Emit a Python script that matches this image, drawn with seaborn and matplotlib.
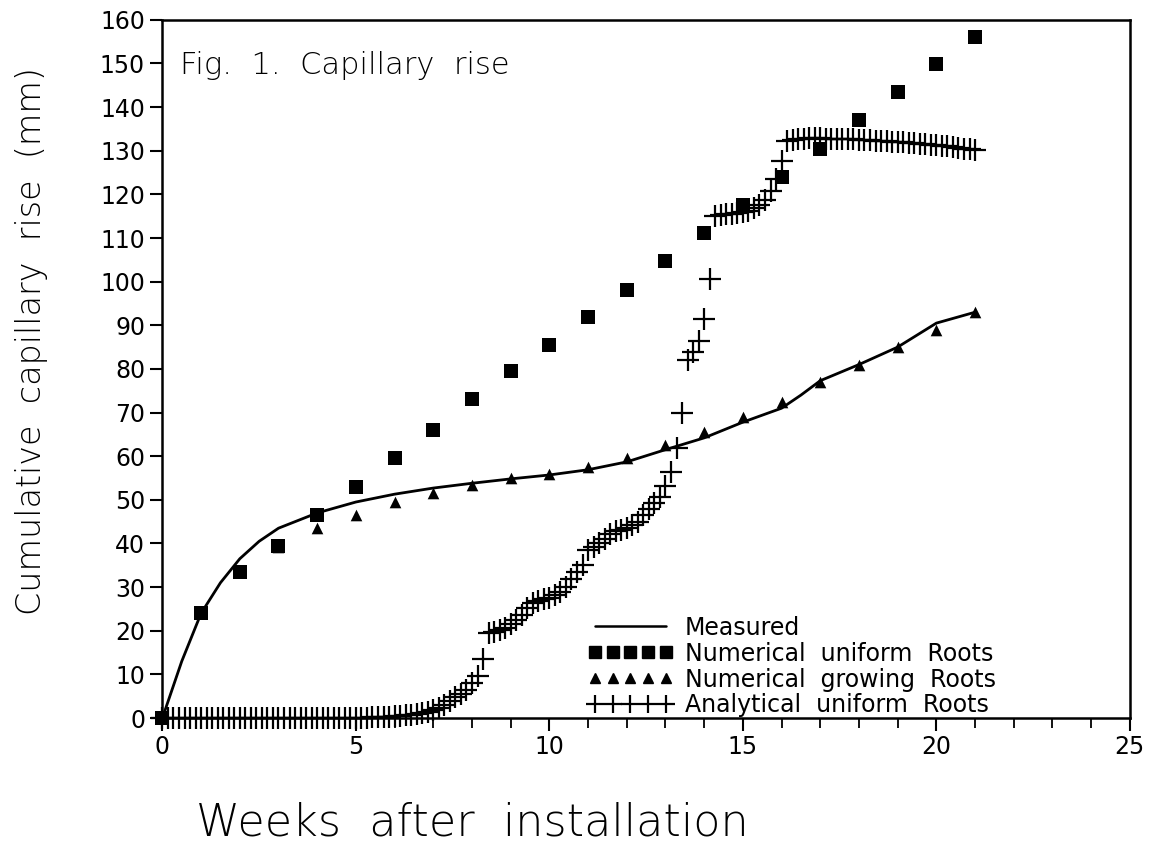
import numpy as np
import pandas as pd
import matplotlib
matplotlib.use("Agg")
import matplotlib.pyplot as plt
from matplotlib.ticker import MultipleLocator
from matplotlib.lines import Line2D
import seaborn as sns

sns.set_theme(style="ticks")
plt.rcParams['font.family'] = ['DejaVu Sans']
plt.rcParams['text.color'] = 'black'
plt.rcParams['axes.labelcolor'] = 'black'
plt.rcParams['xtick.color'] = 'black'
plt.rcParams['ytick.color'] = 'black'

# Measured (solid line)
measured_weeks = [0, 0.5, 1, 1.5, 2, 2.5, 3, 4, 5, 6, 7, 8, 9, 10, 11, 12, 13, 14, 15, 16, 16.5, 17, 18, 19, 20, 21]
measured_mm = [0, 13, 24, 31, 36.5, 40.5, 43.5, 47, 49.5, 51.3, 52.7, 53.8, 54.8, 55.7, 56.9, 58.7, 61.5, 64.2, 67.8, 71, 74, 77.3, 81, 85, 90.5, 93]

# Numerical uniform roots (squares), weekly
num_weeks = list(range(0, 22))
num_uniform = [0, 24, 33.5, 39.5, 46.5, 53, 59.5, 66, 73, 79.5, 85.5, 92, 98.2, 104.7, 111.2, 117.6, 124.1, 130.5, 137, 143.5, 149.8, 156]

# Numerical growing roots (triangles), weekly
num_growing = [0, 24, 33.5, 39.2, 43.5, 46.5, 49.5, 51.5, 53.5, 55, 56, 57.5, 59.5, 62.5, 65.5, 69, 72.5, 77, 81, 85, 89, 93]

# Analytical uniform roots (plusses), daily values
ana_days = list(range(0, 148))
ana_mm = (
    [0] * 36
    + [0.1, 0.1, 0.2, 0.2, 0.3, 0.3, 0.4, 0.5, 0.6]
    + [0.7, 0.9, 1.1, 1.4, 1.8, 2.3, 3.0, 3.8, 4.8, 5.6]
    + [6.5, 8, 9.7, 13.6, 19.4, 19.8, 20.2, 20.7, 21.5, 22.4,
       23.6, 25.2, 26.3, 26.8, 27.2, 27.6, 28.1, 28.8, 30, 31.9,
       33.5, 35, 38.6, 39.3, 40.1, 41, 42.2, 42.8, 43.2, 43.6,
       44.2, 45, 46.5, 47.8, 49.2, 50.6, 53.2, 56.4, 61.8, 70,
       82, 83.8, 86.3, 91.4, 100.5, 115, 115.2, 115.4, 115.6, 115.8,
       116, 116.3, 116.8, 117.6, 118.7, 120.8, 123.6, 127.6, 132.3, 132.4,
       132.6, 132.8, 132.9, 132.9, 132.9]
    + [132.8, 132.8, 132.7, 132.7, 132.6, 132.6, 132.5,
       132.5, 132.4, 132.3, 132.3, 132.2, 132.1, 132.0,
       131.9, 131.8, 131.7, 131.6, 131.5, 131.4, 131.3,
       131.1, 131.0, 130.8, 130.7, 130.5, 130.3, 130.1]
)
ana_weeks = [d / 7 for d in ana_days]

legend_labels = ['Measured', 'Numerical  uniform  Roots',
                 'Numerical  growing  Roots', 'Analytical  uniform  Roots']

fig = plt.figure(figsize=(11.6, 8.63), dpi=100)
ax = fig.add_axes([0.14, 0.168, 0.834, 0.809])

sns.lineplot(x=measured_weeks, y=measured_mm, ax=ax, color='black', linewidth=2, legend=False)
sns.scatterplot(x=num_weeks, y=num_uniform, ax=ax, marker='s', s=110, color='black',
                edgecolor='black', linewidth=0, zorder=3, clip_on=False, legend=False)
sns.scatterplot(x=num_weeks, y=num_growing, ax=ax, marker='^', s=70, color='black',
                edgecolor='black', linewidth=0, zorder=3, clip_on=False, legend=False)
sns.scatterplot(x=ana_weeks, y=ana_mm, ax=ax, marker='+', s=260, color='black',
                linewidth=1.6, zorder=3, clip_on=False, legend=False)

ax.set_xlim(0, 25)
ax.set_ylim(0, 160)
ax.xaxis.set_major_locator(MultipleLocator(5))
ax.xaxis.set_minor_locator(MultipleLocator(1))
ax.yaxis.set_major_locator(MultipleLocator(10))
ax.tick_params(axis='both', which='major', length=9, width=1.5, labelsize=17)
ax.tick_params(axis='x', which='minor', length=7, width=1.3)
for sp in ax.spines.values():
    sp.set_linewidth(1.8)
    sp.set_color('black')

ax.set_xlabel('Weeks  after  installation', fontsize=32, fontweight='light')
ax.xaxis.set_label_coords(0.32, -0.15)
ax.xaxis.label.set_va('center')
ax.set_ylabel('Cumulative  capillary  rise  (mm)', fontsize=24, fontweight='light')
ax.yaxis.set_label_coords(-0.135, 0.54)
ax.yaxis.label.set_va('center')
ax.text(0.018, 0.935, 'Fig.  1.  Capillary  rise', transform=ax.transAxes,
        fontsize=22, fontweight='light', va='center', ha='left')

handles = [
    Line2D([], [], color='black', linewidth=1.8),
    Line2D([], [], color='black', marker='s', linestyle='none', markersize=8),
    Line2D([], [], color='black', marker='^', linestyle='none', markersize=7),
    Line2D([], [], color='black', marker='+', linestyle='none', markersize=13, markeredgewidth=1.6),
]
ax.legend(handles, legend_labels, loc='upper left', bbox_to_anchor=(0.43, 0.16),
          frameon=False, numpoints=5, handlelength=3.6, handletextpad=0.5,
          labelspacing=0.08, fontsize=17, borderaxespad=0)

fig.savefig('out.png', dpi=100)
